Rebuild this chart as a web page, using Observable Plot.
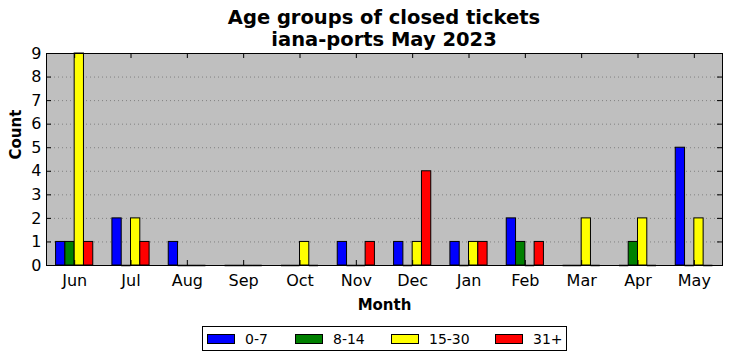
<!DOCTYPE html>
<html>
<head>
<meta charset="utf-8">
<script src="https://cdn.jsdelivr.net/npm/d3@7"></script>
<script src="https://cdn.jsdelivr.net/npm/@observablehq/plot@0.6"></script>
<style>
  html, body { margin: 0; padding: 0; background: #fff; }
  #wrap { position: relative; width: 732px; height: 361px; font-family: "DejaVu Sans", sans-serif; }
  #title { position: absolute; left: 46px; width: 676px; top: 7px; text-align: center; font-weight: bold; font-size: 19.5px; line-height: 22px; color: #000; }
  #legend { position: absolute; left: 202px; top: 326px; width: 363px; height: 23px; border: 1px solid #000; background: #fff; font-size: 14px; }
  .item { position: absolute; top: 0; height: 23px; display: flex; align-items: center; }
  .sw { width: 26px; height: 8px; border: 1px solid #000; margin-right: 10px; }
</style>
</head>
<body>
<div id="wrap">
  <div id="title">Age groups of closed tickets<br>iana-ports May 2023</div>
  <div id="chart"></div>
  <div id="legend"></div>
</div>
<script>
const months = ["Jun","Jul","Aug","Sep","Oct","Nov","Dec","Jan","Feb","Mar","Apr","May"];
const seriesNames = ["0-7","8-14","15-30","31+"];
const seriesColors = ["#0000ff","#008000","#ffff00","#ff0000"];
const v0_7   = [1,2,1,0,0,1,1,1,2,0,0,5];
const v8_14  = [1,0,0,0,0,0,0,0,1,0,1,0];
const v15_30 = [9,2,0,0,1,0,1,1,0,2,2,2];
const v31p   = [1,1,0,0,0,1,4,1,1,0,0,0];
const yTicks = [0,1,2,3,4,5,6,7,8,9];

const allSeries = [v0_7, v8_14, v15_30, v31p];
const barW = 0.165;
const data = [];
allSeries.forEach((vals, k) => {
  vals.forEach((v, i) => {
    const x1 = i - 2 * barW + k * barW;
    data.push({month: months[i], series: seriesNames[k], value: v, x1, x2: x1 + barW});
  });
});

const xMin = -0.5, xMax = 11.5, yMin = 0, yMax = 9;
const W = 732, H = 361, mL = 46, mR = 10, mT = 53, mB = 96;
const pxX = (xMax - xMin) / (W - mL - mR);
const pxY = (yMax - yMin) / (H - mT - mB);
const tick = 5;
const mIdx = months.map((_, i) => i);

const chart = Plot.plot({
  width: W, height: H,
  marginLeft: mL, marginRight: mR, marginTop: mT, marginBottom: mB,
  style: {fontFamily: "DejaVu Sans, sans-serif", fontSize: "16px", color: "#000", background: "transparent"},
  x: {domain: [xMin, xMax], label: null},
  y: {domain: [yMin, yMax], label: null},
  color: {domain: seriesNames, range: seriesColors},
  marks: [
    Plot.frame({fill: "#bfbfbf"}),
    Plot.ruleY(yTicks.slice(1, -1), {stroke: "#808080", strokeWidth: 1, strokeDasharray: "1,3"}),
    Plot.rectY(data.filter(d => d.value > 0), {x1: "x1", x2: "x2", y1: 0, y2: "value", fill: "series", stroke: "#000", strokeWidth: 1}),
    Plot.ruleY(data.filter(d => d.value === 0), {x1: "x1", x2: "x2", y: "value", stroke: "#000", strokeWidth: 1.5}),
    Plot.ruleY(yTicks, {x1: xMin, x2: xMin + tick * pxX, stroke: "#000"}),
    Plot.ruleY(yTicks, {x1: xMax - tick * pxX, x2: xMax, stroke: "#000"}),
    Plot.ruleX(mIdx, {y1: yMin, y2: yMin + tick * pxY, stroke: "#000"}),
    Plot.ruleX(mIdx, {y1: yMax - tick * pxY, y2: yMax, stroke: "#000"}),
    Plot.frame({stroke: "#000", strokeWidth: 1}),
    Plot.axisX({ticks: mIdx, tickFormat: i => months[i], tickSize: 0, tickPadding: 9, fontSize: 16, label: null}),
    Plot.axisY({ticks: yTicks, tickSize: 0, tickPadding: 5, fontSize: 16, label: null}),
    Plot.text(["Month"], {frameAnchor: "bottom", dy: 40, fontWeight: "bold", fontSize: 15, lineAnchor: "middle"}),
    Plot.text(["Count"], {frameAnchor: "left", dx: -30, rotate: -90, fontWeight: "bold", fontSize: 15})
  ]
});
document.getElementById("chart").appendChild(chart);

const legend = document.getElementById("legend");
const lefts = [4, 92, 188, 292];
seriesNames.forEach((name, k) => {
  const it = document.createElement("div");
  it.className = "item";
  it.style.left = lefts[k] + "px";
  const sw = document.createElement("div");
  sw.className = "sw";
  sw.style.background = seriesColors[k];
  it.appendChild(sw);
  const t = document.createElement("span");
  t.textContent = name;
  it.appendChild(t);
  legend.appendChild(it);
});
</script>
</body>
</html>
